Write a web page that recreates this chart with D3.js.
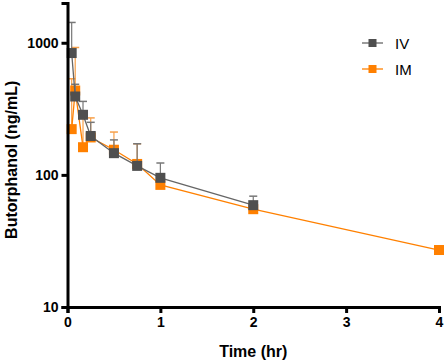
<!DOCTYPE html>
<html>
<head>
<meta charset="utf-8">
<script src="https://cdn.jsdelivr.net/npm/d3@7"></script>
<style>
  body { margin: 0; background: #fff; }
  text { font-family: "Liberation Sans", Arial, sans-serif; }
</style>
</head>
<body>
<div id="chart"></div>
<script>
// Data (time in hours, concentration in ng/mL, upper error in ng/mL)
const times = [0.045, 0.083, 0.167, 0.25, 0.5, 0.75, 1, 2, 4];
const ivValues = [836, 392, 285, 197, 146, 117, 95, 59, null];
const ivUpper = [1425, 485, 360, 250, 184, 172, 123, 69, null];
const imValues = [222, 435, 162, 192, 155, 121, 84, 55, 27];
const imUpper = [534, 921, 270, 270, 211, 172, null, null, null];
const xTicks = [0, 1, 2, 3, 4];
const yTicks = [10, 100, 1000];

const colorIV = "#4f4f4f";
const colorIVLine = "#666666";
const colorIM = "#ff8000";

const width = 447, height = 364;
const margin = { top: 3, right: 8, bottom: 57, left: 67.5 };

const svg = d3.select("#chart").append("svg")
    .attr("width", width)
    .attr("height", height);

const x = d3.scaleLinear().domain([0, 4]).range([margin.left, width - margin.right]);
const y = d3.scaleLog().domain([10, 2000]).range([height - margin.bottom, margin.top]);

function makeSeries(vals, upper) {
    return times.map((t, i) => ({ t: t, v: vals[i], u: upper[i] })).filter(d => d.v != null);
}
const series = [
    { name: "IM", data: makeSeries(imValues, imUpper), color: colorIM, line: colorIM, whisker: "#f7a04a" },
    { name: "IV", data: makeSeries(ivValues, ivUpper), color: colorIV, line: colorIVLine, whisker: "#777777" }
];

const line = d3.line().x(d => x(d.t)).y(d => y(d.v));
const sq = 10;

series.forEach(s => {
    const g = svg.append("g");
    // error bars (upper only)
    const eb = s.data.filter(d => d.u != null);
    g.selectAll(".whisker").data(eb).enter().append("line")
        .attr("x1", d => x(d.t)).attr("x2", d => x(d.t))
        .attr("y1", d => y(d.v)).attr("y2", d => y(d.u))
        .attr("stroke", s.whisker).attr("stroke-width", 1.2);
    g.selectAll(".cap").data(eb).enter().append("line")
        .attr("x1", d => x(d.t) - 4).attr("x2", d => x(d.t) + 4)
        .attr("y1", d => y(d.u)).attr("y2", d => y(d.u))
        .attr("stroke", s.whisker).attr("stroke-width", 1.5);
    g.append("path").datum(s.data)
        .attr("d", line)
        .attr("fill", "none")
        .attr("stroke", s.line)
        .attr("stroke-width", 1.3);
    g.selectAll(".pt").data(s.data).enter().append("rect")
        .attr("x", d => x(d.t) - sq / 2)
        .attr("y", d => y(d.v) - sq / 2)
        .attr("width", sq).attr("height", sq)
        .attr("fill", s.color);
});

// Axes
const xAxis = svg.append("g")
    .attr("transform", `translate(0,${height - margin.bottom})`)
    .call(d3.axisBottom(x).tickValues(xTicks).tickFormat(d3.format("d")).tickSizeOuter(0).tickSize(6).tickPadding(4));
const yAxis = svg.append("g")
    .attr("transform", `translate(${margin.left},0)`)
    .call(d3.axisLeft(y).tickValues(yTicks).tickFormat(d3.format("d")).tickSizeOuter(0).tickSize(6).tickPadding(3));

[xAxis, yAxis].forEach(a => {
    a.select(".domain").attr("stroke", "#000").attr("stroke-width", 3);
    a.selectAll(".tick line").attr("stroke", "#000").attr("stroke-width", 3);
    a.selectAll(".tick text")
        .attr("fill", "#000")
        .style("font-size", "14px")
        .style("font-weight", "bold")
        .style("font-family", "'Liberation Sans', Arial, sans-serif");
});

// Axis titles
svg.append("text")
    .attr("x", x(2))
    .attr("y", 357)
    .attr("text-anchor", "middle")
    .style("font-size", "16px")
    .style("font-weight", "bold")
    .text("Time (hr)");

svg.append("text")
    .attr("transform", `translate(17,${y(130)}) rotate(-90)`)
    .attr("text-anchor", "middle")
    .style("font-size", "16px")
    .style("font-weight", "bold")
    .text("Butorphanol (ng/mL)");

// Legend
const legendItems = [
    { name: "IV", color: colorIV, line: colorIVLine },
    { name: "IM", color: colorIM, line: colorIM }
];
const legend = svg.append("g").attr("transform", "translate(362,43)");
legendItems.forEach((d, i) => {
    const g = legend.append("g").attr("transform", `translate(0,${i * 26})`);
    g.append("line").attr("x1", 0).attr("x2", 21).attr("y1", 0).attr("y2", 0)
        .attr("stroke", d.line).attr("stroke-width", 1.3);
    g.append("rect").attr("x", 10.5 - 4).attr("y", -4).attr("width", 8).attr("height", 8)
        .attr("fill", d.color);
    g.append("text").attr("x", 33).attr("y", 5.5)
        .style("font-size", "15px")
        .attr("fill", "#000")
        .text(d.name);
});
</script>
</body>
</html>
